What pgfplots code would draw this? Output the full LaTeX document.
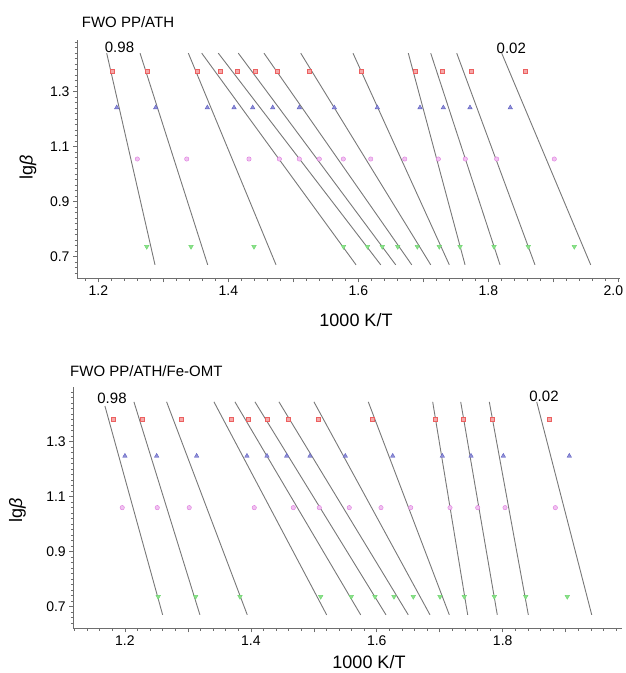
\documentclass[border=0pt]{standalone}
\usepackage{fontspec}
\setmainfont{Liberation Sans}
\usepackage{pgfplots}
\pgfplotsset{compat=1.18}
\definecolor{mred}{RGB}{236,96,96}
\definecolor{mblue}{RGB}{96,96,196}
\definecolor{mpink}{RGB}{222,120,222}
\definecolor{mgreen}{RGB}{110,215,110}
\definecolor{fitgray}{RGB}{120,120,120}
\definecolor{axgray}{RGB}{110,110,110}
\pgfplotsset{
  fwo/.style={
    scale only axis,
    axis lines*=left,
    axis line style={axgray, line width=0.8pt},
    tick align=outside,
    tick style={axgray, line width=0.6pt},
    major tick length=4pt,
    minor tick length=2.5pt,
    ytick={0.7,0.9,1.1,1.3},
    yticklabels={0.7,0.9,1.1,1.3},
    minor ytick={0.62,0.64,...,1.49},
    ymin=0.621,
    tick label style={font=\fontsize{14}{16}\selectfont},
    /pgf/number format/assume math mode=true,
    clip=false,
  },
  fit/.style={fitgray, line width=0.9pt, no marks},
  pr/.style={only marks, mark=square*, mark size=2pt, mark options={draw=mred, fill=mred!55}},
  pb/.style={only marks, mark=triangle*, mark size=2.6pt, mark options={draw=mblue, fill=mblue!70}},
  pp/.style={only marks, mark=*, mark size=2.2pt, mark options={draw=mpink, fill=mpink!45}},
  pg/.style={only marks, mark=triangle*, mark size=2.6pt, mark options={rotate=180, draw=mgreen, fill=mgreen!80}},
}
\newcommand{\fitline}[4]{\addplot[fit] coordinates {(#1,#3) (#2,#4)};}
\begin{document}
\begin{tikzpicture}[x=1pt,y=1pt]
\useasboundingbox (0,0) rectangle (625,673);
% ---------------- top panel ----------------
\begin{axis}[fwo,
  at={(77pt,394.7pt)}, anchor=south west,
  width=543pt, height=238.3pt,
  xmin=1.1672, xmax=2.0026, ymax=1.488,
  xtick={1.2,1.3,1.4,1.5,1.6,1.7,1.8,1.9,2.0},
  xticklabels={1.2,,1.4,,1.6,,1.8,,\makebox[0pt][c]{2.0\hspace{10pt}}},
  minor xtick={1.18,1.22,1.24,1.26,1.28,1.32,1.34,1.36,1.38,1.42,1.44,1.46,1.48,1.52,1.54,1.56,1.58,1.62,1.64,1.66,1.68,1.72,1.74,1.76,1.78,1.82,1.84,1.86,1.88,1.92,1.94,1.96,1.98},
]
\fitline{1.2129}{1.2872}{1.44}{0.67}
\fitline{1.2642}{1.3683}{1.44}{0.67}
\fitline{1.3385}{1.4734}{1.44}{0.67}
\fitline{1.3591}{1.5965}{1.44}{0.67}
\fitline{1.3846}{1.6345}{1.44}{0.67}
\fitline{1.4154}{1.6575}{1.44}{0.67}
\fitline{1.4549}{1.6822}{1.44}{0.67}
\fitline{1.5114}{1.7114}{1.44}{0.67}
\fitline{1.5918}{1.7400}{1.44}{0.67}
\fitline{1.6769}{1.7642}{1.44}{0.67}
\fitline{1.7114}{1.8180}{1.44}{0.67}
\fitline{1.7514}{1.8718}{1.44}{0.67}
\fitline{1.8206}{1.9575}{1.44}{0.67}
\addplot[pr] coordinates {(1.2215,1.375) (1.2754,1.375) (1.3523,1.375) (1.3877,1.375) (1.4134,1.375) (1.4411,1.375) (1.4745,1.375) (1.5246,1.375) (1.6042,1.375) (1.6872,1.375) (1.7298,1.375) (1.7738,1.375) (1.8569,1.375)};
\addplot[pb] coordinates {(1.2283,1.242) (1.2883,1.242) (1.3677,1.242) (1.4088,1.242) (1.4375,1.242) (1.4683,1.242) (1.5092,1.242) (1.5631,1.242) (1.6292,1.242) (1.6949,1.242) (1.7308,1.242) (1.7718,1.242) (1.8338,1.242)};
\addplot[pp] coordinates {(1.2600,1.055) (1.3360,1.055) (1.4318,1.055) (1.4785,1.055) (1.5092,1.055) (1.5400,1.055) (1.5769,1.055) (1.6191,1.055) (1.6714,1.055) (1.7231,1.055) (1.7646,1.055) (1.8129,1.055) (1.9015,1.055)};
\addplot[pg] coordinates {(1.2745,0.736) (1.3426,0.736) (1.4395,0.736) (1.5772,0.736) (1.6142,0.736) (1.6369,0.736) (1.6606,0.736) (1.6908,0.736) (1.7246,0.736) (1.7565,0.736) (1.8088,0.736) (1.8615,0.736) (1.9323,0.736)};
\end{axis}
% ---------------- bottom panel ----------------
\begin{axis}[fwo,
  at={(73.3pt,44.7pt)}, anchor=south west,
  width=548.4pt, height=241pt,
  xmin=1.118, xmax=1.989, ymax=1.498,
  xtick={1.2,1.3,1.4,1.5,1.6,1.7,1.8,1.9},
  xticklabels={1.2,,1.4,,1.6,,1.8,},
  minor xtick={1.12,1.14,1.16,1.18,1.22,1.24,1.26,1.28,1.32,1.34,1.36,1.38,1.42,1.44,1.46,1.48,1.52,1.54,1.56,1.58,1.62,1.64,1.66,1.68,1.72,1.74,1.76,1.78,1.82,1.84,1.86,1.88,1.92,1.94,1.96,1.98},
]
\fitline{1.1682}{1.2599}{1.43}{0.67}
\fitline{1.2143}{1.3191}{1.445}{0.67}
\fitline{1.2662}{1.3943}{1.445}{0.67}
\fitline{1.3414}{1.5204}{1.445}{0.67}
\fitline{1.3747}{1.5744}{1.445}{0.67}
\fitline{1.4065}{1.6146}{1.445}{0.67}
\fitline{1.4446}{1.6500}{1.445}{0.67}
\fitline{1.5002}{1.6845}{1.445}{0.67}
\fitline{1.5865}{1.7152}{1.445}{0.67}
\fitline{1.6888}{1.7444}{1.445}{0.67}
\fitline{1.7333}{1.7914}{1.445}{0.67}
\fitline{1.7787}{1.8407}{1.445}{0.67}
\fitline{1.8540}{1.9414}{1.445}{0.67}
\addplot[pr] coordinates {(1.1814,1.381) (1.2275,1.381) (1.2901,1.381) (1.3684,1.381) (1.3959,1.381) (1.4256,1.381) (1.4594,1.381) (1.5077,1.381) (1.5924,1.381) (1.6929,1.381) (1.7380,1.381) (1.7841,1.381) (1.8740,1.381)};
\addplot[pb] coordinates {(1.2000,1.248) (1.2504,1.248) (1.3139,1.248) (1.3938,1.248) (1.4256,1.248) (1.4569,1.248) (1.4939,1.248) (1.5500,1.248) (1.6253,1.248) (1.7041,1.248) (1.7497,1.248) (1.8010,1.248) (1.9058,1.248)};
\addplot[pp] coordinates {(1.1957,1.06) (1.2513,1.06) (1.3021,1.06) (1.4054,1.06) (1.4674,1.06) (1.5087,1.06) (1.5563,1.06) (1.6067,1.06) (1.6539,1.06) (1.7163,1.06) (1.7603,1.06) (1.8037,1.06) (1.8836,1.06)};
\addplot[pg] coordinates {(1.2529,0.736) (1.3123,0.736) (1.3827,0.736) (1.5109,0.736) (1.5595,0.736) (1.5971,0.736) (1.6273,0.736) (1.6580,0.736) (1.7004,0.736) (1.7390,0.736) (1.7867,0.736) (1.8365,0.736) (1.9026,0.736)};
\end{axis}
% ---------------- texts ----------------
\begin{scope}[every node/.style={inner sep=0pt}]
\node[anchor=west, font=\fontsize{15}{17}\selectfont] at (81.7,651) {FWO PP/ATH};
\node[anchor=west, font=\fontsize{15}{17}\selectfont] at (70,302) {FWO PP/ATH/Fe-OMT};
\node[font=\fontsize{15}{17}\selectfont] at (119.5,626) {0.98};
\node[font=\fontsize{15}{17}\selectfont] at (511.3,625) {0.02};
\node[font=\fontsize{15}{17}\selectfont] at (112,275) {0.98};
\node[font=\fontsize{15}{17}\selectfont] at (544,277) {0.02};
\node[font=\fontsize{18}{20}\selectfont] at (356,353) {1000 K/T};
\node[font=\fontsize{18}{20}\selectfont] at (369,11) {1000 K/T};
\node[rotate=90, font=\fontsize{18}{20}\selectfont] at (28,506) {lg\textit{β}};
\node[rotate=90, font=\fontsize{18}{20}\selectfont] at (17.5,163) {lg\textit{β}};
\end{scope}
\end{tikzpicture}
\end{document}
